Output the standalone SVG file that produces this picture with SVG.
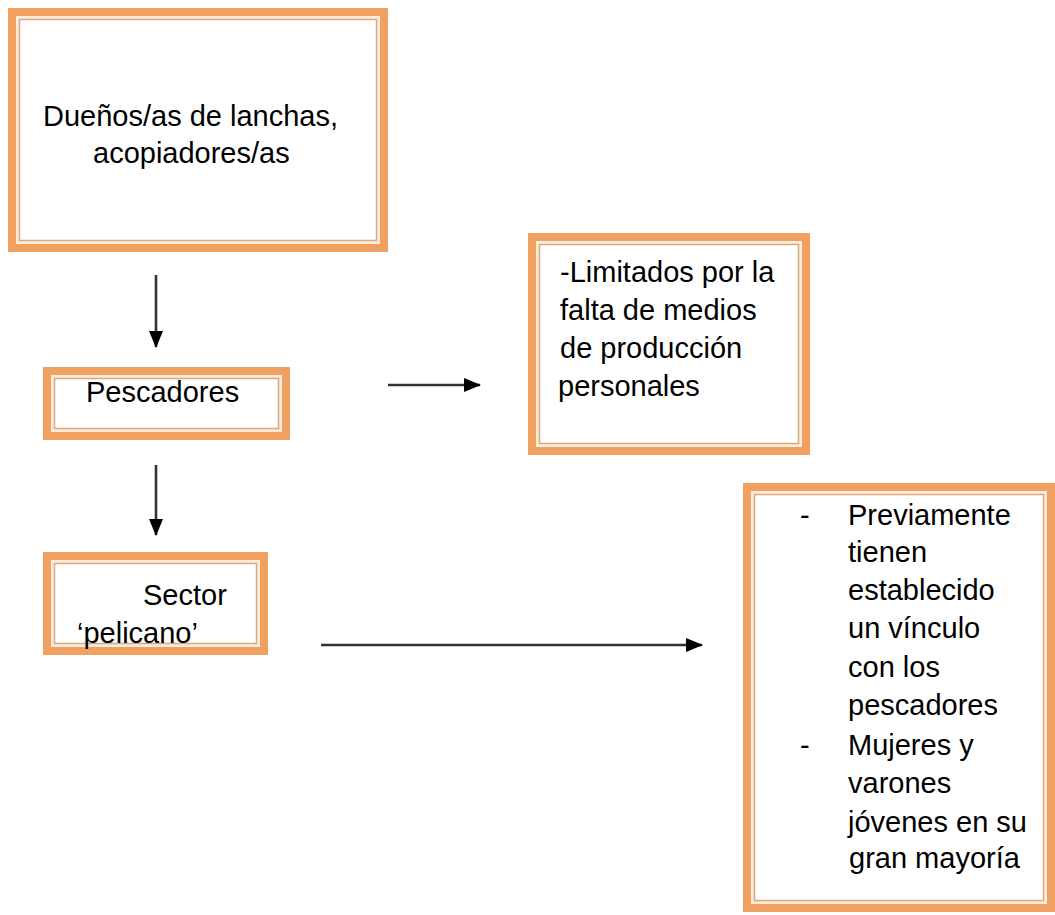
<svg xmlns="http://www.w3.org/2000/svg" width="1055" height="915" viewBox="0 0 1055 915">
<defs>
<marker id="ah" markerWidth="17" markerHeight="14" refX="16" refY="7" orient="auto" markerUnits="userSpaceOnUse">
<path d="M0,0 L17,7 L0,14 Z" fill="#000"/>
</marker>
<style>
.ob{fill:#FCEBD9;stroke:#F0A060;stroke-width:8}
.ib{fill:#FFFFFF;stroke:#D2AA84;stroke-width:1.5}
.t{font-family:"Liberation Sans",Arial,sans-serif;font-size:29px;fill:#000}
.c{stroke:#333;stroke-width:2.6;fill:none;marker-end:url(#ah)}
</style>
</defs>
<rect width="1055" height="915" fill="#fff"/>
<g id="n1">
<rect class="ob" x="12" y="12" width="372" height="236"/>
<rect class="ib" x="19.5" y="19.5" width="357" height="221"/>
<text class="t" x="43" y="126">Dueños/as de lanchas,</text>
<text class="t" x="93" y="163">acopiadores/as</text>
</g>
<g id="n2">
<rect class="ob" x="47" y="371" width="239" height="65"/>
<rect class="ib" x="54.5" y="378.5" width="224" height="50"/>
<text class="t" x="86" y="402">Pescadores</text>
</g>
<g id="n3">
<rect class="ob" x="47" y="556" width="217" height="95"/>
<rect class="ib" x="54.5" y="563.5" width="202" height="80"/>
<text class="t" x="143" y="605">Sector</text>
<text class="t" x="77" y="643">‘pelicano’</text>
</g>
<g id="n4">
<rect class="ob" x="532" y="237" width="274" height="214"/>
<rect class="ib" x="539.5" y="244.5" width="259" height="199"/>
<text class="t" x="560" y="282">-Limitados por la</text>
<text class="t" x="560" y="320">falta de medios</text>
<text class="t" x="560" y="358">de producción</text>
<text class="t" x="558" y="396">personales</text>
</g>
<g id="n5">
<rect class="ob" x="747" y="487" width="304" height="421"/>
<rect class="ib" x="754.5" y="494.5" width="289" height="406"/>
<text class="t" x="800" y="525">-</text>
<text class="t" x="848" y="525">Previamente</text>
<text class="t" x="848" y="562">tienen</text>
<text class="t" x="848" y="600">establecido</text>
<text class="t" x="848" y="638">un vínculo</text>
<text class="t" x="848" y="677">con los</text>
<text class="t" x="848" y="715">pescadores</text>
<text class="t" x="800" y="755">-</text>
<text class="t" x="848" y="755">Mujeres y</text>
<text class="t" x="848" y="793">varones</text>
<text class="t" x="848" y="832">jóvenes en su</text>
<text class="t" x="849" y="868">gran mayoría</text>
</g>
<g id="connectors">
<line class="c" x1="156" y1="275" x2="156" y2="347"/>
<line class="c" x1="156" y1="465" x2="156" y2="535"/>
<line class="c" x1="388" y1="385" x2="480" y2="385"/>
<line class="c" x1="321" y1="645" x2="702" y2="645"/>
</g>
</svg>
